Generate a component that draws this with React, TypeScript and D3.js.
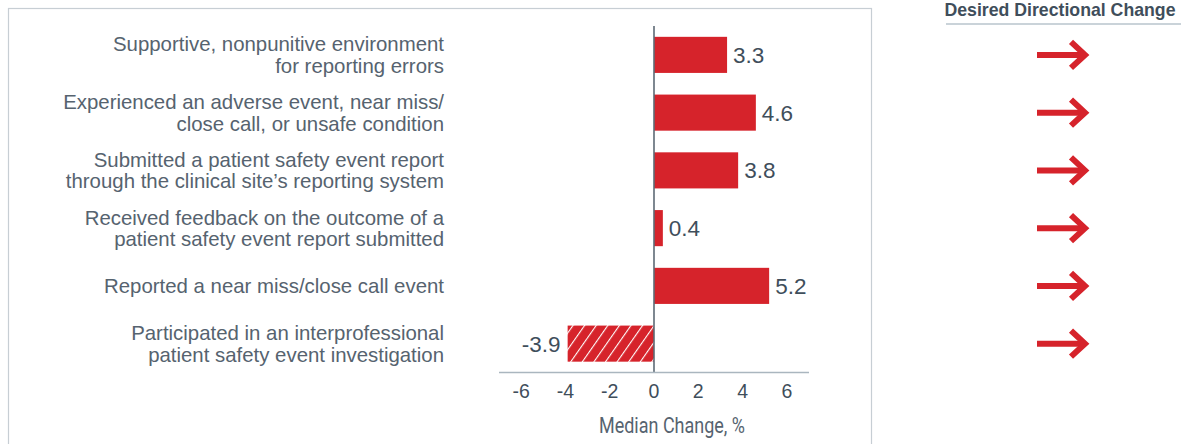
import React from "react";
import * as d3 from "d3";

const categories: string[][] = [
  ["Supportive, nonpunitive environment", "for reporting errors"],
  ["Experienced an adverse event, near miss/", "close call, or unsafe condition"],
  ["Submitted a patient safety event report", "through the clinical site\u2019s reporting system"],
  ["Received feedback on the outcome of a", "patient safety event report submitted"],
  ["Reported a near miss/close call event"],
  ["Participated in an interprofessional", "patient safety event investigation"],
];
const values: number[] = [3.3, 4.6, 3.8, 0.4, 5.2, -3.9];
const directions: string[] = ["up", "up", "up", "up", "up", "up"];
const ticks: number[] = [-6, -4, -2, 0, 2, 4, 6];
const axisTitle = "Median Change, %";
const legendTitle = "Desired Directional Change";

const RED = "#d6232b";
const TEXT = "#56636f";
const DARK = "#3f4e5b";
const FONT = "'Liberation Sans', Arial, Helvetica, sans-serif";

export default function App() {
  const W = 1181;
  const H = 444;
  const x = d3.scaleLinear().domain([-7, 7]).range([499, 809]);
  const idx = categories.map((_, i) => String(i));
  const y = d3
    .scaleBand<string>()
    .domain(idx)
    .range([26, 372.5])
    .paddingInner(0.375)
    .paddingOuter(0.1875);
  const bw = y.bandwidth();
  const lineH = 21.5;

  return (
    <svg
      width={W}
      height={H}
      style={{ position: "absolute", left: 0, top: 0, background: "#fff" }}
      fontFamily={FONT}
    >
      <defs>
        <pattern
          id="hatch"
          patternUnits="userSpaceOnUse"
          width={9.5}
          height={9.5}
          patternTransform="rotate(35)"
        >
          <rect width={9.5} height={9.5} fill={RED} />
          <line x1={0} y1={0} x2={0} y2={9.5} stroke="#fff" strokeWidth={2.2} />
        </pattern>
      </defs>
      {/* panel border */}
      <rect x={8.5} y={8.5} width={863} height={500} fill="none" stroke="#c7ced4" strokeWidth={1.2} />

      {/* category labels */}
      {categories.map((lines, i) => {
        const cy = (y(String(i)) as number) + bw / 2;
        const start = cy - ((lines.length - 1) * lineH) / 2;
        return (
          <text key={i} textAnchor="end" fontSize={20.4} fill={TEXT}>
            {lines.map((l, j) => (
              <tspan key={j} x={444} y={start + j * lineH} dy="0.35em">
                {l}
              </tspan>
            ))}
          </text>
        );
      })}

      {/* bars */}
      {values.map((v, i) => {
        const y0 = y(String(i)) as number;
        const x0 = x(Math.min(0, v));
        const w = Math.abs(x(v) - x(0));
        return (
          <rect
            key={i}
            x={x0}
            y={y0}
            width={w}
            height={bw}
            fill={v < 0 ? "url(#hatch)" : RED}
          />
        );
      })}

      {/* value labels */}
      {values.map((v, i) => {
        const cy = (y(String(i)) as number) + bw / 2;
        const neg = v < 0;
        return (
          <text
            key={i}
            x={neg ? x(v) - 7 : x(v) + 6}
            y={cy}
            dy="0.36em"
            textAnchor={neg ? "end" : "start"}
            fontSize={22.5}
            fill={DARK}
          >
            {v.toFixed(1)}
          </text>
        );
      })}

      {/* zero line */}
      <line x1={x(0)} x2={x(0)} y1={26} y2={372.5} stroke="#5d6a75" strokeWidth={1.6} />
      {/* x axis */}
      <line x1={x.range()[0]} x2={x.range()[1]} y1={372.5} y2={372.5} stroke="#aab6bf" strokeWidth={1.4} />
      {ticks.map((t) => (
        <text key={t} x={x(t)} y={391} dy="0.35em" textAnchor="middle" fontSize={19.5} fill={DARK}>
          {t}
        </text>
      ))}
      <text
        x={599}
        y={425}
        dy="0.36em"
        fontSize={22}
        fill={TEXT}
        textLength={146}
        lengthAdjust="spacingAndGlyphs"
        style={{ fontFamily: "Roboto, 'Liberation Sans', sans-serif" }}
      >
        {axisTitle}
      </text>

      {/* legend column */}
      <text x={1060} y={10} dy="0.35em" textAnchor="middle" fontSize={17.7} fontWeight="bold" fill={DARK}>
        {legendTitle}
      </text>
      <line x1={946} x2={1181} y1={24} y2={24} stroke="#b9c4cc" strokeWidth={1.5} />
      {directions.map((d, i) => {
        const cy = (y(String(i)) as number) + bw / 2;
        return (
          <g key={i} stroke={RED} strokeWidth={6} fill="none">
            <line x1={1037} x2={1085} y1={cy} y2={cy} />
            <path d={`M1071,${cy - 13} L1085,${cy} L1071,${cy + 13}`} strokeLinejoin="miter" />
          </g>
        );
      })}
    </svg>
  );
}
